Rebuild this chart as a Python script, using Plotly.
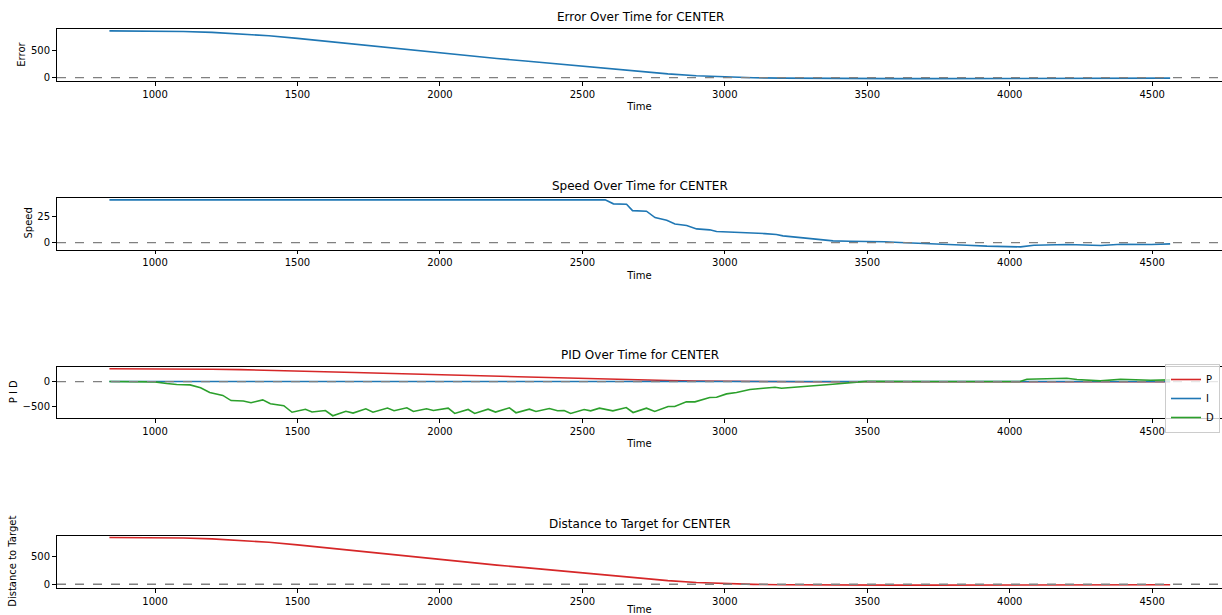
import plotly.graph_objects as go

# ---------------- data ----------------
err_t = [840, 900, 1000, 1100, 1200, 1300, 1400, 1500, 1600, 1700, 1800, 1900, 2000,
         2100, 2200, 2300, 2400, 2500, 2600, 2700, 2800, 2900, 3000, 3100, 3200, 3300,
         3400, 3500, 3600, 3700, 3800, 3900, 4000, 4100, 4200, 4300, 4400, 4500, 4563]
err_v = [855, 855, 852, 845, 828, 800, 765, 718, 665, 610, 554, 500, 447,
         397, 350, 305, 258, 208, 160, 112, 68, 33, 10, -2, -10, -15,
         -17, -18, -18, -18, -18, -18, -18, -15, -13, -12, -11, -10, -10]

speed_t = [840, 2580, 2609, 2655, 2676, 2725, 2755, 2796, 2825, 2866, 2901, 2947, 2971,
           3017, 3041, 3088, 3140, 3181, 3204, 3275, 3321, 3380, 3438, 3497, 3560, 3614,
           3732, 3849, 3920, 4038, 4085, 4203, 4320, 4391, 4497, 4563]
speed_v = [41, 41, 37.2, 36.8, 30.7, 30.1, 24, 21.5, 17.9, 16.3, 13.1, 12.2, 10.6,
           10.2, 9.3, 9.3, 8.6, 7.7, 6.4, 4.5, 3.2, 1.6, 1.3, 1.3, 0.8, 0,
           -1, -2.6, -3.5, -4.2, -2.6, -1.9, -2.9, -1.6, -1.9, -1.3]

p_t = err_t
p_v = [256, 256, 255, 253, 248, 240, 229, 215, 199, 183, 166, 150, 134,
       119, 105, 91, 77, 62, 48, 34, 20, 10, 3, -1, -3, -5,
       -5, -5, -5, -5, -5, -5, -5, -4, -4, -4, -3, -3, -3]

i_t = [840, 2000, 3000, 4000, 4563]
i_v = [0, 0, 0, 0, 0]

d_t = [840, 1000, 1041, 1076, 1123, 1160, 1192, 1238, 1267, 1310, 1337, 1378, 1405,
       1452, 1481, 1528, 1551, 1598, 1624, 1670, 1695, 1740, 1765, 1816, 1839, 1884,
       1907, 1953, 1977, 2029, 2052, 2099, 2122, 2169, 2195, 2244, 2267, 2314, 2337,
       2384, 2413, 2436, 2459, 2506, 2529, 2560, 2607, 2654, 2678, 2725, 2754, 2801,
       2824, 2865, 2895, 2947, 2971, 3006, 3041, 3088, 3135, 3176, 3199, 3252, 3322,
       3379, 3473, 3497, 3700, 4036, 4060, 4142, 4200, 4236, 4318, 4389, 4436, 4494, 4563]
d_v = [0, -7, -40, -60, -67, -125, -218, -278, -381, -388, -424, -367, -444,
       -484, -615, -556, -610, -580, -685, -596, -632, -546, -615, -530, -583, -526,
       -599, -546, -579, -533, -638, -559, -638, -553, -612, -526, -625, -553, -599,
       -540, -586, -579, -638, -559, -586, -533, -587, -520, -620, -533, -600, -500,
       -500, -407, -407, -320, -313, -247, -220, -160, -133, -113, -133, -113, -87,
       -53, -7, 5, 0, 0, 47, 60, 67, 40, 13, 47, 33, 27, 33]

dist_t = err_t
dist_v = [850, 850, 848, 842, 826, 798, 763, 716, 663, 608, 552, 498, 445,
          395, 348, 303, 256, 206, 158, 110, 66, 31, 9, -2, -9, -14,
          -16, -16, -16, -16, -16, -16, -16, -14, -12, -11, -10, -9, -9]

titles = ["Error Over Time for CENTER", "Speed Over Time for CENTER",
          "PID Over Time for CENTER", "Distance to Target for CENTER"]
ylabels = ["Error", "Speed", "P I D", "Distance to Target"]
x_ticks = [1000, 1500, 2000, 2500, 3000, 3500, 4000, 4500]
y_ticks = [[0, 500], [0, 25], [-500, 0], [0, 500]]
y_ranges = [[-62, 899], [-6.7, 43.3], [-730, 302], [-68, 887]]

# ---------------- layout helpers ----------------
W, H = 1222, 615
OFF = 0  # body margin removed via post_script
FONT = "DejaVu Sans, Liberation Sans, Arial, sans-serif"
BLUE, RED, GREEN = "#1f77b4", "#d62728", "#2ca02c"

def py(px):
    return 1 - (px - OFF) / H

def px_x(px):
    return (px - OFF) / W

boxes = [(28.5, 81), (197.5, 249.5), (366.5, 418), (535.5, 588)]
x_left, x_right = 57, 1222

fig = go.Figure()

def add(x, y, color, idx, name=None, show=False):
    fig.add_trace(go.Scatter(
        x=x, y=y, mode="lines", line=dict(color=color, width=1.6),
        xaxis="x" if idx == 0 else f"x{idx+1}",
        yaxis="y" if idx == 0 else f"y{idx+1}",
        name=name, showlegend=show, hoverinfo="x+y"))

add(err_t, err_v, BLUE, 0)
add(speed_t, speed_v, BLUE, 1)
add(p_t, p_v, RED, 2, "P", True)
add(i_t, i_v, BLUE, 2, "I", True)
add(d_t, d_v, GREEN, 2, "D", True)
add(dist_t, dist_v, RED, 3)

layout = dict(
    width=W, height=H,
    margin=dict(l=0, r=0, t=0, b=0, autoexpand=False),
    paper_bgcolor="white", plot_bgcolor="white",
    font=dict(family=FONT, size=10, color="#000"),
    showlegend=True,
    legend=dict(x=px_x(1220), xanchor="right", y=py(364), yanchor="top",
                bgcolor="rgba(255,255,255,0.8)", bordercolor="#cccccc", borderwidth=1,
                font=dict(size=10, family=FONT), itemwidth=30),
)

annotations = []
shapes = []
for i, (top, bot) in enumerate(boxes):
    sx = "" if i == 0 else str(i + 1)
    layout[f"xaxis{sx}"] = dict(
        domain=[px_x(x_left), px_x(x_right)], range=[656, 4745], automargin=False,
        anchor=f"y{sx}", tickvals=x_ticks, ticks="outside", ticklen=4,
        tickcolor="#000", tickwidth=0.8,
        showline=True, linecolor="#000", linewidth=0.9, mirror=True,
        showgrid=False, zeroline=False, tickfont=dict(size=10),
        title=dict(text="Time", font=dict(size=10), standoff=4),
    )
    layout[f"yaxis{sx}"] = dict(
        domain=[py(bot), py(top)], range=y_ranges[i], automargin=False,
        anchor=f"x{sx}", tickvals=y_ticks[i], ticks="outside", ticklen=4,
        tickcolor="#000", tickwidth=0.8,
        showline=True, linecolor="#000", linewidth=0.9, mirror=False,
        showgrid=False, zeroline=False, tickfont=dict(size=10),
    )
    annotations.append(dict(
        text=titles[i], x=px_x((x_left + 1223) / 2), y=py(top - 3),
        xref="paper", yref="paper", xanchor="center", yanchor="bottom",
        showarrow=False, font=dict(size=12, family=FONT)))
    annotations.append(dict(
        text=ylabels[i], textangle=-90,
        x=px_x([22, 28, 13, 13][i]),
        y=py((top + bot) / 2), xref="paper", yref="paper",
        xanchor="center", yanchor="middle", showarrow=False,
        font=dict(size=10, family=FONT)))
    shapes.append(dict(
        type="line", xref=f"x{sx} domain", x0=0, x1=1,
        yref=f"y{sx}", y0=0, y1=0,
        line=dict(color="#808080", width=1.3, dash="dash")))

layout["annotations"] = annotations
layout["shapes"] = shapes
fig.update_layout(**layout)

fig.write_html(
    "out.html",
    config={"displayModeBar": False},
    post_script="document.body.style.margin='0';document.body.style.overflow='hidden';",
)
